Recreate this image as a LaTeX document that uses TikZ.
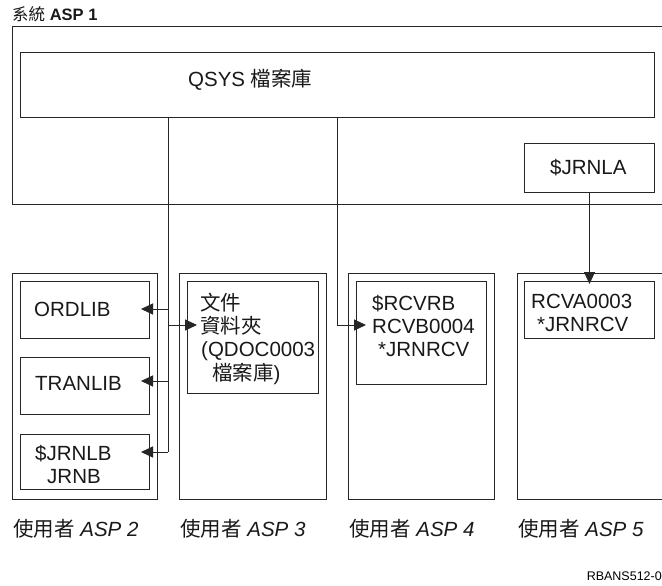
\documentclass[tikz,border=0pt]{standalone}
\usepackage{fontspec}
\setmainfont{Liberation Sans}
\newfontfamily\cjk{Noto Sans CJK TC}
\usetikzlibrary{arrows.meta}
\newcommand\zh[1]{{\cjk #1}}
\begin{document}
\begin{tikzpicture}[x=1pt,y=-1pt,
  box/.style={draw=black!85,line width=1pt,inner sep=0pt,anchor=north west},
  conn/.style={draw=black!85,line width=1pt},
  arr/.style={conn,-{Triangle[length=12pt,width=11pt]}},
  txt/.style={inner sep=0pt,anchor=base west,font=\fontsize{20.5}{23}\selectfont,text=black!90},
  lbl/.style={txt}]
\useasboundingbox[fill=white] (0,0) rectangle (662,586);

% title
\node[txt,font=\fontsize{16.5}{18}\selectfont] (title) at (12,21) {\zh{系統} \textbf{ASP 1}};

% system ASP 1 (open to the right)
\draw[conn] (662,27) -- (12,27) -- (12,204) -- (662,204);
\node[box,minimum width=634,minimum height=65] (qsys) at (20,52) {};
\node[txt] (qsyst) at (188,87) {QSYS \zh{檔案庫}};
\node[box,minimum width=130,minimum height=49] (jrnla) at (524,143) {};
\node[txt] (jrnlat) at (550,174) {\$JRNLA};

% user ASP 2
\node[box,minimum width=145,minimum height=226] (asp2) at (12,273) {};
\node[box,minimum width=129,minimum height=57] (ordlib) at (20,281) {};
\node[txt] (ordlibt) at (34,316) {ORDLIB};
\node[box,minimum width=129,minimum height=57] (tranlib) at (20,357) {};
\node[txt] (tranlibt) at (35,390) {TRANLIB};
\node[box,minimum width=129,minimum height=55] (jrnlb) at (20,434) {};
\node[txt] (jrnlbt1) at (35,460) {\$JRNLB};
\node[txt] (jrnlbt2) at (47,483) {JRNB};

% user ASP 3
\node[box,minimum width=147,minimum height=226] (asp3) at (179,273) {};
\node[box,minimum width=131,minimum height=112] (qdoc) at (187,281) {};
\node[txt] (qdoct1) at (200,310) {\zh{文件}};
\node[txt] (qdoct2) at (200,333.3) {\zh{資料夾}};
\node[txt] (qdoct3) at (201,356.5) {(QDOC0003};
\node[txt] (qdoct4) at (212,380) {\zh{檔案庫})};

% user ASP 4
\node[box,minimum width=146,minimum height=226] (asp4) at (348,273) {};
\node[box,minimum width=130,minimum height=103] (rcvb) at (356,281) {};
\node[txt] (rcvbt1) at (372,310) {\$RCVRB};
\node[txt] (rcvbt2) at (372,333) {RCVB0004};
\node[txt] (rcvbt3) at (378,356) {*JRNRCV};

% user ASP 5 (open to the right)
\draw[conn] (662,273) -- (517,273) -- (517,499) -- (662,499);
\node[box,minimum width=130,minimum height=57] (rcva) at (524,281) {};
\node[txt] (rcvat1) at (531,308) {RCVA0003};
\node[txt] (rcvat2) at (537,331) {*JRNRCV};

% labels
\node[lbl] (l2) at (13,536) {\zh{使用者} \textit{ASP 2}};
\node[lbl] (l3) at (180,536) {\zh{使用者} \textit{ASP 3}};
\node[lbl] (l4) at (349,536) {\zh{使用者} \textit{ASP 4}};
\node[lbl] (l5) at (518,536) {\zh{使用者} \textit{ASP 5}};
\node[inner sep=0pt,anchor=base east,font=\fontsize{12.5}{14}\selectfont] (code) at (662,580.5) {RBANS512-0};

% connectors
\coordinate (trunkA) at (168,452);
\coordinate (ja1) at (168,309);
\coordinate (ja2) at (168,381);
\coordinate (ja3) at (168,325);
\coordinate (jb) at (337,325);
\draw[conn] (qsys.south -| trunkA) -- (trunkA);
\draw[arr] (ja1) -- ([xshift=-9pt]ordlib.east |- ja1);
\draw[arr] (ja2) -- ([xshift=-9pt]tranlib.east |- ja2);
\draw[arr] (trunkA) -- ([xshift=-9pt]jrnlb.east |- trunkA);
\draw[arr] (ja3) -- ([xshift=10pt]qdoc.west |- ja3);
\draw[arr] (qsys.south -| jb) |- ([xshift=10pt]rcvb.west |- jb);
\draw[arr] (jrnla.south) -- ([yshift=-3pt]jrnla.south |- rcva.north);
\end{tikzpicture}
\end{document}
